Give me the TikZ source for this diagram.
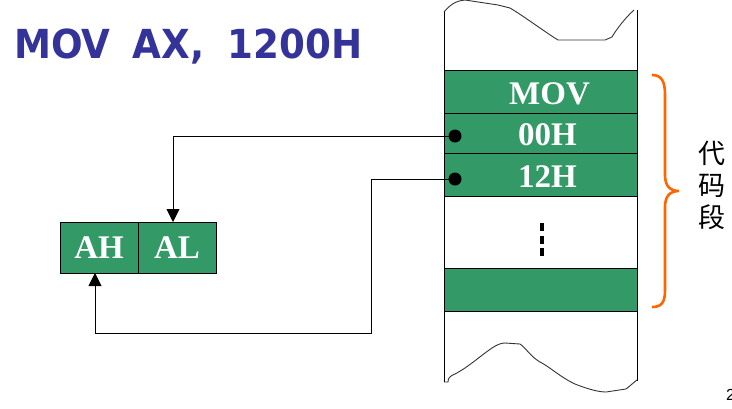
\documentclass[tikz,border=0pt]{standalone}
\usepackage{fontspec}
\setmainfont{Liberation Serif}
\newfontfamily\titlefont{DejaVu Sans}
\newfontfamily\cjkfont{Noto Sans CJK SC}
\newfontfamily\numfont{Liberation Sans}
\usetikzlibrary{arrows.meta}
\definecolor{cellgreen}{HTML}{339966}
\definecolor{titleblue}{HTML}{333399}
\definecolor{braceorange}{HTML}{FF6600}
\begin{document}
\begin{tikzpicture}[x=1pt,y=-1pt,
  cell/.style={draw=black, line width=0.9pt, fill=cellgreen, minimum width=193pt, inner sep=0pt, outer sep=0pt},
  blankcell/.style={draw=black, line width=0.9pt, fill=white, minimum width=193pt, inner sep=0pt, outer sep=0pt},
  celltext/.style={text=white, font=\fontsize{33}{35}\selectfont\bfseries, inner sep=0pt},
  regcell/.style={draw=black, line width=0.9pt, fill=cellgreen, minimum height=51pt, inner sep=0pt, outer sep=0pt, text=white, font=\fontsize{33}{35}\selectfont\bfseries},
  conn/.style={draw=black, line width=0.9pt},
  tip/.style={-{Triangle[length=13pt,width=13pt]}},
  wave/.style={draw=black!80, line width=0.9pt}]
\useasboundingbox (0,0) rectangle (732,408);

% title
\node[anchor=base west, inner sep=0pt, text=titleblue, font=\titlefont\fontsize{40}{41}\selectfont\bfseries] (title) at (14,58) {\scalebox{0.93}[1]{MOV\hspace{24pt}AX,\hspace{25pt}1200H}};

% memory column outline
\draw[wave] (444,12) .. controls (450,5) and (455,1) .. (465,0) -- (498,5) -- (510,8) .. controls (525,17) and (545,32) .. (558,40) -- (605,40) -- (612,37) .. controls (616,30) and (625,18) .. (634,10);
\draw[wave] (444,382) -- (448,382) .. controls (448,378) and (450,376) .. (455,374) .. controls (470,366) and (480,356) .. (492,348) .. controls (498,344) and (502,343) .. (505,343) -- (520,344) .. controls (526,348) and (530,356) .. (540,362) .. controls (550,367) and (560,377) .. (575,384) .. controls (590,390) and (600,392) .. (606,392) -- (626,389) .. controls (630,386) and (633,383) .. (637,380);
\draw[conn] (444,12) -- (444,382);
\draw[conn] (637,10) -- (637,381);

% cells
\node[cell, minimum height=43pt] (c1) at (540.5,91.5) {};
\node[cell, minimum height=40pt] (c2) at (540.5,133) {};
\node[cell, minimum height=43pt] (c3) at (540.5,174.5) {};
\node[blankcell, minimum height=72pt] (c4) at (540.5,232) {};
\node[cell, minimum height=43pt] (c5) at (540.5,289.5) {};
\node[celltext] (t1) at ([xshift=9pt,yshift=-2pt]c1.center) {MOV};
\node[celltext] (t2) at ([xshift=7pt,yshift=-2pt]c2.center) {00H};
\node[celltext] (t3) at ([xshift=7pt,yshift=-2pt]c3.center) {12H};
\coordinate (dtop) at (542,223);
\coordinate (dbot) at (542,257);
\draw[line width=4pt, dash pattern=on 8pt off 4.5pt] (dtop) -- (dbot);

% dots
\coordinate (p1) at (455,136);
\coordinate (p2) at (455,179);
\fill (p1) circle (6.5pt);
\fill (p2) circle (6.5pt);

% registers
\node[regcell, minimum width=78pt] (ah) at (99,247.5) {AH};
\node[regcell, minimum width=78pt] (al) at (177,247.5) {AL};

% connectors
\coordinate (k1) at (173,136);
\coordinate (k2) at (371,179);
\coordinate (k3) at (371,333);
\coordinate (k4) at (95,333);
\draw[conn, tip] (p1) -- (k1) -- (k1 |- al.north);
\draw[conn, tip] (p2) -- (k2) -- (k3) -- (k4) -- (k4 |- ah.south);

% brace
\draw[braceorange, line width=2.6pt] (652,75) .. controls (662,75) and (665,82) .. (665,95) -- (665,175) .. controls (665,186) and (670,191) .. (679,191) .. controls (670,191) and (665,196) .. (665,207) -- (665,290) .. controls (665,302) and (662,307) .. (652,307);

% label
\node[font=\cjkfont\fontsize{27}{32}\selectfont, align=center, inner sep=0pt] (seg) at (712,185) {代\\码\\段};

% page number (cut at the right edge, as in the reference)
\node[anchor=base west, inner sep=0pt, font=\numfont\fontsize{16}{18}\selectfont] (pg) at (726,400) {2};
\end{tikzpicture}
\end{document}
